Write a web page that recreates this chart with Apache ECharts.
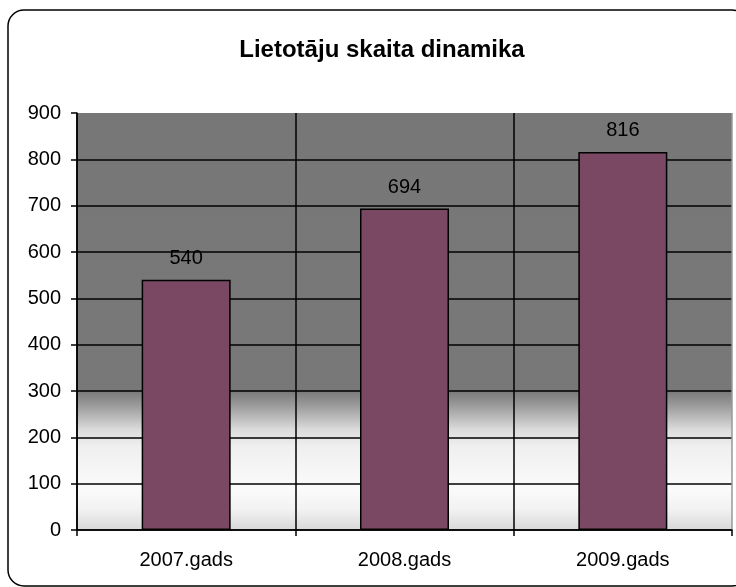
<!DOCTYPE html>
<html><head><meta charset="utf-8">
<script src="https://cdn.jsdelivr.net/npm/echarts@6/dist/echarts.min.js"></script>
<style>html,body{margin:0;padding:0;background:#fff}#c{width:736px;height:587px}</style>
</head><body><div id="c"></div>
<script>
const categories = ['2007.gads', '2008.gads', '2009.gads'];
const users = [540, 694, 816];
const yTicks = [0, 100, 200, 300, 400, 500, 600, 700, 800, 900];
const titleText = 'Lietotāju skaita dinamika';

const chart = echarts.init(document.getElementById('c'));
const F = 'Arial, "Liberation Sans", sans-serif';
chart.setOption({
  animation: false,
  backgroundColor: '#fff',
  title: {
    text: titleText, left: 377, top: 33, textAlign: 'center',
    textStyle: { fontFamily: F, fontSize: 24, fontWeight: 'bold', color: '#000' }
  },
  graphic: [{
    type: 'rect', z: 100, silent: true,
    shape: { x: 8, y: 10, width: 740, height: 576, r: 16 },
    style: { fill: 'none', stroke: '#000', lineWidth: 1.5 }
  }],
  grid: {
    left: 77, right: 4, top: 113, bottom: 57, show: true, borderWidth: 0,
    backgroundColor: new echarts.graphic.LinearGradient(0, 0, 0, 1, [
      { offset: 0, color: '#777777' },
      { offset: 0.665, color: '#787878' },
      { offset: 0.70, color: '#999999' },
      { offset: 0.76, color: '#dcdcdc' },
      { offset: 0.80, color: '#efefef' },
      { offset: 0.90, color: '#fbfbfb' },
      { offset: 0.95, color: '#f2f2f2' },
      { offset: 1, color: '#d8d8d8' }
    ])
  },
  xAxis: {
    type: 'category', data: categories,
    axisLine: { show: true, lineStyle: { color: '#000', width: 1.5 } },
    axisTick: { show: true, length: 6, lineStyle: { color: '#000', width: 1.5 } },
    axisLabel: { fontFamily: F, fontSize: 20, color: '#000', margin: 20 },
    splitLine: { show: true, lineStyle: { color: ['#000', '#000', '#000', '#999'], width: 1.5 } }
  },
  yAxis: {
    type: 'value', min: 0, max: 900, interval: 100,
    axisLine: { show: true, lineStyle: { color: '#000', width: 1.5 } },
    axisTick: { show: true, length: 6, lineStyle: { color: '#000', width: 1.5 } },
    axisLabel: {
      fontFamily: F, fontSize: 20, color: '#000', margin: 16,
      formatter: v => yTicks.includes(v) ? String(v) : ''
    },
    splitLine: { show: true, lineStyle: { color: ['#000','#000','#000','#000','#000','#000','#000','#000','#000','transparent'], width: 1.5 } }
  },
  series: [{
    type: 'bar', data: users, barWidth: 89,
    itemStyle: { color: '#7A4862', borderColor: '#000', borderWidth: 1.5 },
    label: { show: true, position: 'top', distance: 11, fontFamily: F, fontSize: 20, color: '#000' }
  }]
});
</script></body></html>
